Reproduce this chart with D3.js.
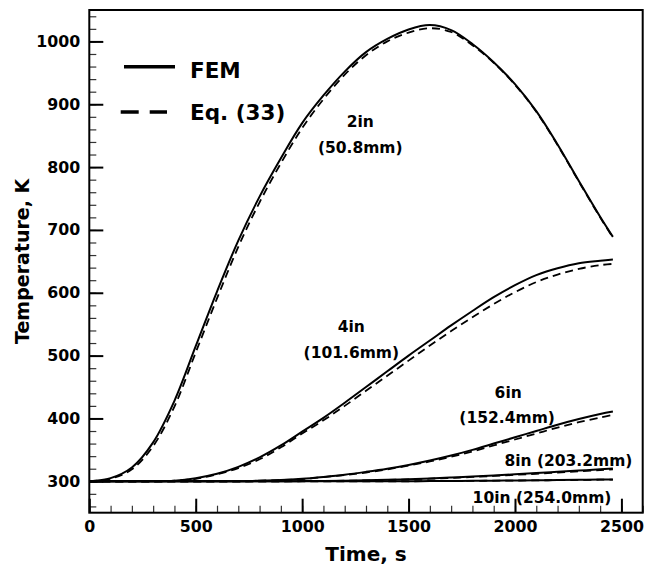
<!DOCTYPE html>
<html>
<head>
<meta charset="utf-8">
<script src="https://cdn.jsdelivr.net/npm/d3@7"></script>
<style>
  body { margin: 0; background: #fff; }
  text { font-family: "DejaVu Sans", sans-serif; font-weight: bold; }
</style>
</head>
<body>
<div id="chart-container"></div>
<script>
const W = 650, H = 565;
const margin = { top: 10, right: 7.3, bottom: 52.3, left: 89.3 };
const width = W - margin.left - margin.right;
const height = H - margin.top - margin.bottom;

// time grid, s
const times = [0, 100, 200, 300, 400, 500, 600, 700, 800, 900, 1000, 1100, 1200,
  1300, 1400, 1500, 1600, 1700, 1800, 1900, 2000, 2100, 2200, 2300, 2400, 2460];

// temperature, K  (FEM = solid, Eq. (33) = dashed)
const fem2in  = [300, 305, 322, 362, 428, 515, 602, 683, 753, 814, 870, 914, 952,
  983, 1004, 1019, 1026, 1018, 996, 967, 932, 889, 836, 778, 721, 689];
const eq2in   = [300, 304, 319, 356, 419, 505, 591, 673, 744, 806, 862, 908, 947,
  978, 1000, 1014, 1021, 1015, 994, 966, 931, 888, 835, 777, 720, 688];

const fem4in  = [300, 300, 300, 300, 301, 305, 312, 323, 338, 357, 379, 401, 425,
  450, 475, 500, 524, 548, 571, 593, 612, 628, 639, 647, 651, 653];
const eq4in   = [300, 300, 300, 300, 301, 304, 311, 321, 335, 354, 376, 397, 420,
  444, 468, 492, 516, 539, 561, 582, 601, 617, 629, 638, 644, 646];

const fem6in  = [300, 300, 300, 300, 300, 300, 300, 300, 301, 302, 304, 307, 310.5,
  315, 320, 326, 333, 341, 350, 360, 370, 380, 390, 399, 407, 411];
const eq6in   = [300, 300, 300, 300, 300, 300, 300, 300, 301, 302, 303.5, 306.5, 310,
  314, 319, 325, 331.5, 339, 347.5, 357, 366.5, 376, 385.5, 394, 401.5, 405.5];

const fem8in  = [300, 300, 300, 300, 300, 300, 300, 300, 300, 300, 300.3, 300.6, 301,
  301.6, 302.4, 303.4, 304.6, 306, 307.6, 309.3, 311.1, 313, 315, 317, 319, 320.2];
const eq8in   = [300, 300, 300, 300, 300, 300, 300, 300, 300, 300, 300.3, 300.6, 300.9,
  301.4, 302.1, 303, 304.1, 305.4, 306.9, 308.5, 310.2, 312, 313.9, 315.8, 317.7, 318.8];

const fem10in = [300, 300, 300, 300, 300, 300, 300, 300, 300, 300, 300, 300, 300,
  300, 300, 300, 300.3, 300.5, 300.8, 301, 301.3, 301.6, 302, 302.3, 302.7, 303];
const eq10in  = [300, 300, 300, 300, 300, 300, 300, 300, 300, 300, 300, 300, 300,
  300, 300, 300, 300.3, 300.5, 300.7, 301, 301.2, 301.5, 301.8, 302.1, 302.5, 302.7];

const femSeries = [fem2in, fem4in, fem6in, fem8in, fem10in];
const eqSeries  = [eq2in, eq4in, eq6in, eq8in, eq10in];

// axis ticks
const xMajor = [0, 500, 1000, 1500, 2000, 2500];
const xMinor = d3.range(0, 2601, 100);
const yMajor = [300, 400, 500, 600, 700, 800, 900, 1000];
const yMinor = d3.range(260, 1041, 20);

// curve labels: [text, time, temperature]
const curveLabels = [
  ["2in", 1273, 864],
  ["(50.8mm)", 1273, 822],
  ["4in", 1231, 538],
  ["(101.6mm)", 1231, 496],
  ["6in", 1968, 432],
  ["(152.4mm)", 1963, 393],
  ["8in (203.2mm)", 2251, 324],
  ["10in (254.0mm)", 2127, 265]
];

const svg = d3.select("#chart-container")
  .append("svg")
  .attr("width", W)
  .attr("height", H)
  .append("g")
  .attr("transform", `translate(${margin.left},${margin.top})`);

const x = d3.scaleLinear().domain([0, 2600]).range([0, width]);
const y = d3.scaleLinear().domain([250, 1050]).range([height, 0]);

function styleLabels(g) {
  g.selectAll("text")
    .style("font-size", "15.8px")
    .style("font-family", "DejaVu Sans")
    .style("font-weight", "bold")
    .attr("fill", "#000");
}

// minor ticks
svg.append("g")
  .attr("transform", `translate(0,${height})`)
  .call(d3.axisBottom(x).tickValues(xMinor).tickSize(-7).tickFormat(""))
  .call(g => g.select(".domain").remove())
  .selectAll("line").attr("stroke", "#333").attr("stroke-width", 1.2);

svg.append("g")
  .call(d3.axisLeft(y).tickValues(yMinor).tickSize(-7).tickFormat(""))
  .call(g => g.select(".domain").remove())
  .selectAll("line").attr("stroke", "#333").attr("stroke-width", 1.2);

// major ticks
svg.append("g")
  .attr("transform", `translate(0,${height})`)
  .call(d3.axisBottom(x).tickValues(xMajor).tickSize(-14).tickPadding(8).tickFormat(d3.format("d")))
  .call(g => g.select(".domain").remove())
  .call(g => g.selectAll("line").attr("stroke", "#000").attr("stroke-width", 2))
  .call(styleLabels);

svg.append("g")
  .call(d3.axisLeft(y).tickValues(yMajor).tickSize(-14).tickPadding(9).tickFormat(d3.format("d")))
  .call(g => g.select(".domain").remove())
  .call(g => g.selectAll("line").attr("stroke", "#000").attr("stroke-width", 2))
  .call(styleLabels);

// frame
svg.append("rect")
  .attr("x", 0).attr("y", 0)
  .attr("width", width).attr("height", height)
  .attr("fill", "none")
  .attr("stroke", "#000")
  .attr("stroke-width", 2);

const line = d3.line()
  .x((d, i) => x(times[i]))
  .y(d => y(d))
  .curve(d3.curveCatmullRom.alpha(0.5));

eqSeries.forEach(s => {
  svg.append("path")
    .datum(s)
    .attr("fill", "none")
    .attr("stroke", "#000")
    .attr("stroke-width", 1.8)
    .attr("stroke-dasharray", "8,5")
    .attr("d", line);
});

femSeries.forEach(s => {
  svg.append("path")
    .datum(s)
    .attr("fill", "none")
    .attr("stroke", "#000")
    .attr("stroke-width", 2)
    .attr("d", line);
});

curveLabels.forEach(l => {
  svg.append("text")
    .attr("x", x(l[1]))
    .attr("y", y(l[2]))
    .attr("text-anchor", "middle")
    .style("font-size", "15.5px")
    .text(l[0]);
});

// legend
svg.append("line")
  .attr("x1", 124 - margin.left).attr("x2", 175 - margin.left)
  .attr("y1", 66.7 - margin.top).attr("y2", 66.7 - margin.top)
  .attr("stroke", "#000").attr("stroke-width", 3.5);
svg.append("line")
  .attr("x1", 120.7 - margin.left).attr("x2", 167 - margin.left)
  .attr("y1", 112 - margin.top).attr("y2", 112 - margin.top)
  .attr("stroke", "#000").attr("stroke-width", 3.5)
  .attr("stroke-dasharray", "18,11");
svg.append("text")
  .attr("x", 190 - margin.left).attr("y", 77.5 - margin.top)
  .style("font-size", "21.5px").text("FEM");
svg.append("text")
  .attr("x", 190 - margin.left).attr("y", 120 - margin.top)
  .style("font-size", "21.5px").text("Eq. (33)");

// axis titles
svg.append("text")
  .attr("x", width / 2)
  .attr("y", height + 48)
  .attr("text-anchor", "middle")
  .style("font-size", "20px")
  .text("Time, s");

svg.append("text")
  .attr("transform", "rotate(-90)")
  .attr("x", -height / 2)
  .attr("y", 29 - margin.left)
  .attr("text-anchor", "middle")
  .style("font-size", "19px")
  .text("Temperature, K");
</script>
</body>
</html>
